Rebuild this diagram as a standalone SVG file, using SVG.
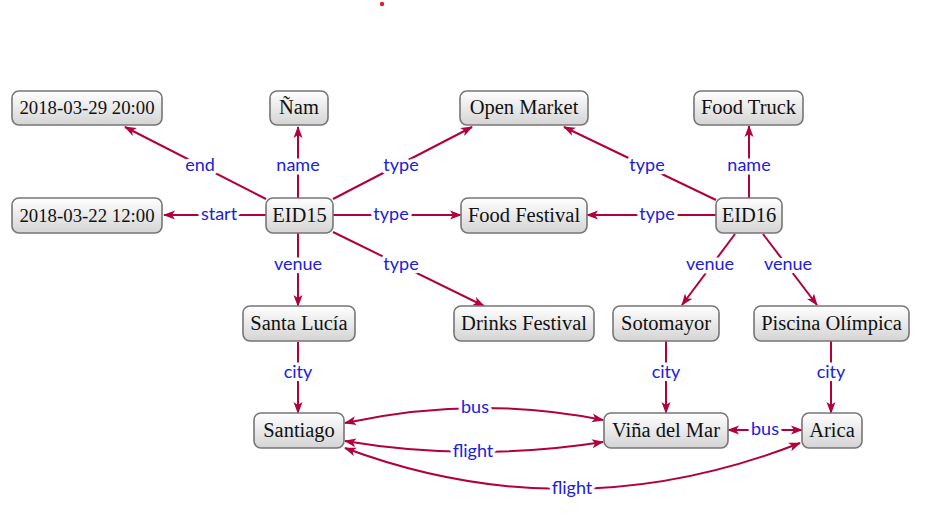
<svg xmlns="http://www.w3.org/2000/svg" width="925" height="516" viewBox="0 0 925 516">
<style>
.n rect{fill:url(#g);stroke:#767676;stroke-width:1.6}
.n text{font-family:"Liberation Serif","DejaVu Serif",serif;font-size:20.5px;fill:#111;text-anchor:middle}
.n text.d{font-size:18.8px}
.e path{fill:none;stroke:#b2003f;stroke-width:2;marker-end:url(#a)}
.e path.b{marker-start:url(#a)}
.l text{font-family:Lato,"Open Sans",sans-serif;font-size:18px;fill:#2020dc;text-anchor:middle;stroke:#fff;stroke-width:7;paint-order:stroke;stroke-linejoin:round}
</style>
<defs>
<linearGradient id="g" x1="0" y1="0" x2="0" y2="1">
<stop offset="0" stop-color="#ffffff"/>
<stop offset="1" stop-color="#d4d4d4"/>
</linearGradient>
<marker id="a" markerUnits="userSpaceOnUse" markerWidth="12" markerHeight="10" refX="11" refY="5" orient="auto-start-reverse" viewBox="0 0 12 10">
<path d="M0,0.5 L12,5 L0,9.5 L3,5 Z" fill="#b2003f"/>
</marker>
</defs>
<rect width="925" height="516" fill="#fff"/>
<circle cx="382" cy="4" r="2.2" fill="#e0202a"/>

<g id="edges" class="e">
<path d="M266,199 L125,127"/>
<path d="M298,198 L298,127"/>
<path d="M266,215 L164,215"/>
<path d="M333,199 L472,127"/>
<path d="M333,215 L461,215"/>
<path d="M298,233 L298,306"/>
<path d="M333,232 L484,306"/>
<path d="M716,200 L564,127"/>
<path d="M749,198 L749,126"/>
<path d="M716,215 L587,215"/>
<path d="M735,234 L682,305"/>
<path d="M763,234 L817,305"/>
<path d="M298,342 L298,413"/>
<path d="M666,341 L666,413"/>
<path d="M831,341 L831,413"/>
<path class="b" d="M345,423 Q476,394.5 603,420"/>
<path class="b" d="M345,441 Q472,462.5 603,442"/>
<path class="b" d="M728,430 L802,430"/>
<path class="b" d="M345,448 Q571.5,532.5 800,443"/>
</g>

<g id="labels" class="l">
<text x="200" y="171">end</text>
<text x="298" y="171">name</text>
<text x="219" y="220">start</text>
<text x="401" y="171">type</text>
<text x="391" y="220">type</text>
<text x="298" y="270">venue</text>
<text x="401" y="270">type</text>
<text x="647" y="171">type</text>
<text x="749" y="171">name</text>
<text x="657" y="220">type</text>
<text x="710" y="270">venue</text>
<text x="788" y="270">venue</text>
<text x="298" y="378">city</text>
<text x="666" y="378">city</text>
<text x="831" y="378">city</text>
<text x="475" y="413">bus</text>
<text x="473" y="457">flight</text>
<text x="765" y="435">bus</text>
<text x="572" y="494">flight</text>
</g>

<g id="n1" class="n"><rect x="12" y="91" width="150" height="34" rx="7"/><text class="d" x="87" y="114">2018-03-29 20:00</text></g>
<g id="n2" class="n"><rect x="270" y="91" width="58" height="34" rx="7"/><text x="299" y="114">Ñam</text></g>
<g id="n3" class="n"><rect x="460" y="91" width="128" height="34" rx="7"/><text x="524" y="114">Open Market</text></g>
<g id="n4" class="n"><rect x="694" y="91" width="109" height="34" rx="7"/><text x="748.5" y="114">Food Truck</text></g>
<g id="n5" class="n"><rect x="12" y="198" width="150" height="35" rx="7"/><text class="d" x="87" y="221.5">2018-03-22 12:00</text></g>
<g id="EID15" class="n"><rect x="266" y="198" width="67" height="35" rx="7"/><text x="299.5" y="221.5">EID15</text></g>
<g id="n6" class="n"><rect x="461" y="198" width="126" height="35" rx="7"/><text x="524" y="221.5">Food Festival</text></g>
<g id="EID16" class="n"><rect x="716" y="198" width="66" height="35" rx="7"/><text x="749" y="221.5">EID16</text></g>
<g id="n7" class="n"><rect x="243" y="306" width="112" height="35" rx="7"/><text x="299" y="329.5">Santa Lucía</text></g>
<g id="n8" class="n"><rect x="454" y="306" width="140" height="35" rx="7"/><text x="524" y="329.5">Drinks Festival</text></g>
<g id="n9" class="n"><rect x="613" y="306" width="106" height="35" rx="7"/><text x="666" y="329.5">Sotomayor</text></g>
<g id="n10" class="n"><rect x="754" y="306" width="155" height="35" rx="7"/><text x="831.5" y="329.5">Piscina Olímpica</text></g>
<g id="n11" class="n"><rect x="254" y="413" width="90" height="35" rx="7"/><text x="299" y="436.5">Santiago</text></g>
<g id="n12" class="n"><rect x="604" y="413" width="124" height="35" rx="7"/><text x="666" y="436.5">Viña del Mar</text></g>
<g id="n13" class="n"><rect x="802" y="413" width="60" height="35" rx="7"/><text x="832" y="436.5">Arica</text></g>
</svg>
